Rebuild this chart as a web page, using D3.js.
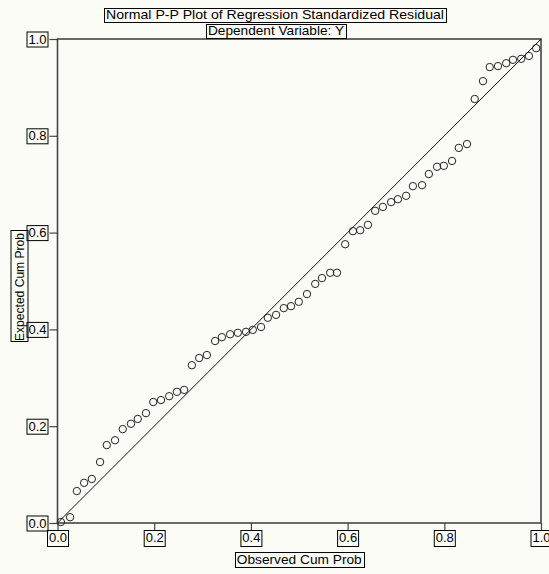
<!DOCTYPE html>
<html>
<head>
<meta charset="utf-8">
<script src="https://cdn.jsdelivr.net/npm/d3@7"></script>
<style>
  html, body { margin: 0; padding: 0; background: #fcfcf7; }
  svg { display: block; }
  text { font-family: "Liberation Sans", Arial, sans-serif; font-size: 13px; fill: #000; }
</style>
</head>
<body>
<div id="chart"></div>
<script>
// Observed / expected cumulative probabilities
const observed = [
  0.007, 0.026, 0.040, 0.055, 0.071, 0.088, 0.102, 0.119, 0.135, 0.152,
  0.166, 0.183, 0.198, 0.214, 0.231, 0.247, 0.262, 0.278, 0.293, 0.309,
  0.326, 0.340, 0.357, 0.373, 0.390, 0.404, 0.421, 0.435, 0.452, 0.468,
  0.483, 0.499, 0.516, 0.533, 0.547, 0.564, 0.578, 0.595, 0.611, 0.626,
  0.642, 0.657, 0.673, 0.690, 0.704, 0.721, 0.735, 0.754, 0.768, 0.785,
  0.799, 0.816, 0.830, 0.847, 0.863, 0.880, 0.894, 0.911, 0.928, 0.942,
  0.959, 0.975, 0.990
];
const expected = [
  0.002, 0.012, 0.066, 0.083, 0.091, 0.126, 0.161, 0.171, 0.194, 0.205,
  0.215, 0.227, 0.250, 0.254, 0.262, 0.271, 0.275, 0.326, 0.341, 0.347,
  0.376, 0.384, 0.390, 0.393, 0.395, 0.399, 0.405, 0.424, 0.430, 0.444,
  0.448, 0.457, 0.473, 0.494, 0.506, 0.517, 0.517, 0.576, 0.603, 0.605,
  0.616, 0.645, 0.653, 0.663, 0.669, 0.676, 0.696, 0.698, 0.721, 0.736,
  0.738, 0.748, 0.775, 0.783, 0.876, 0.913, 0.942, 0.944, 0.950, 0.957,
  0.959, 0.965, 0.981
];
const tickValues = [0, 0.2, 0.4, 0.6, 0.8, 1.0];
const titleLines = ['Normal P-P Plot of Regression Standardized Residual', 'Dependent Variable: Y'];
const xTitle = 'Observed Cum Prob';
const yTitle = 'Expected Cum Prob';

const width = 549, height = 574;
const x = d3.scaleLinear().domain([0, 1]).range([57.5, 541]);
const y = d3.scaleLinear().domain([0, 1]).range([523, 39]);

const svg = d3.select('#chart').append('svg')
    .attr('width', width)
    .attr('height', height);

// Put a 1px box round a text element
function boxText(sel, padX, padY) {
    sel.each(function() {
        const b = this.getBBox();
        d3.select(this.parentNode).insert('rect', () => this)
            .attr('x', Math.round(b.x - padX) + 0.5)
            .attr('y', Math.round(b.y - padY) + 0.5)
            .attr('width', Math.round(b.width + 2 * padX))
            .attr('height', Math.round(b.height + 2 * padY))
            .attr('fill', 'none')
            .attr('stroke', '#000')
            .attr('stroke-width', 1);
    });
}

// Axes
const xAxis = svg.append('g')
    .attr('transform', `translate(0,${y(0)})`)
    .call(d3.axisBottom(x).tickValues(tickValues).tickSize(8).tickPadding(2)
        .tickFormat(d3.format('.1f')));
const yAxis = svg.append('g')
    .attr('transform', `translate(${x(0)},0)`)
    .call(d3.axisLeft(y).tickValues(tickValues).tickSize(8).tickPadding(3)
        .tickFormat(d3.format('.1f')));

[xAxis, yAxis].forEach(a => {
    a.select('.domain').remove();
    a.selectAll('.tick line').attr('stroke', '#444').attr('stroke-width', 1.2);
    a.selectAll('.tick text').style('font-size', '13px').attr('fill', '#000');
});
boxText(xAxis.selectAll('.tick text'), 1.5, 0.5);
boxText(yAxis.selectAll('.tick text'), 1.5, 0);

// Frame
svg.append('rect')
    .attr('x', x(0))
    .attr('y', y(1))
    .attr('width', x(1) - x(0))
    .attr('height', y(0) - y(1))
    .attr('fill', 'none')
    .attr('stroke', '#444')
    .attr('stroke-width', 1.6);

// Reference diagonal
svg.append('line')
    .attr('x1', x(0)).attr('y1', y(0))
    .attr('x2', x(1)).attr('y2', y(1))
    .attr('stroke', '#111')
    .attr('stroke-width', 1);

// Points
svg.append('g')
    .selectAll('circle')
    .data(observed.map((o, i) => ({ o, e: expected[i] })))
    .join('circle')
    .attr('cx', d => x(d.o))
    .attr('cy', d => y(d.e))
    .attr('r', 3.7)
    .attr('fill', 'none')
    .attr('stroke', '#222')
    .attr('stroke-width', 1);

// Titles
const t1 = svg.append('g').append('text')
    .attr('x', 275).attr('y', 19)
    .attr('text-anchor', 'middle')
    .attr('textLength', 338)
    .attr('lengthAdjust', 'spacingAndGlyphs')
    .text(titleLines[0]);
boxText(t1, 2, -0.5);

const t2 = svg.append('g').append('text')
    .attr('x', 276).attr('y', 35)
    .attr('text-anchor', 'middle')
    .attr('textLength', 136)
    .attr('lengthAdjust', 'spacingAndGlyphs')
    .text(titleLines[1]);
boxText(t2, 2, -0.5);

const xt = svg.append('g').append('text')
    .attr('x', (x(0) + x(1)) / 2).attr('y', 564)
    .attr('text-anchor', 'middle')
    .attr('textLength', 125)
    .attr('lengthAdjust', 'spacingAndGlyphs')
    .text(xTitle);
boxText(xt, 2, 0);

const yt = svg.append('g')
    .attr('transform', 'translate(23.5,287) rotate(-90)')
    .append('text')
    .attr('text-anchor', 'middle')
    .attr('textLength', 108)
    .attr('lengthAdjust', 'spacingAndGlyphs')
    .text(yTitle);
boxText(yt, 1.5, 1);
</script>
</body>
</html>
